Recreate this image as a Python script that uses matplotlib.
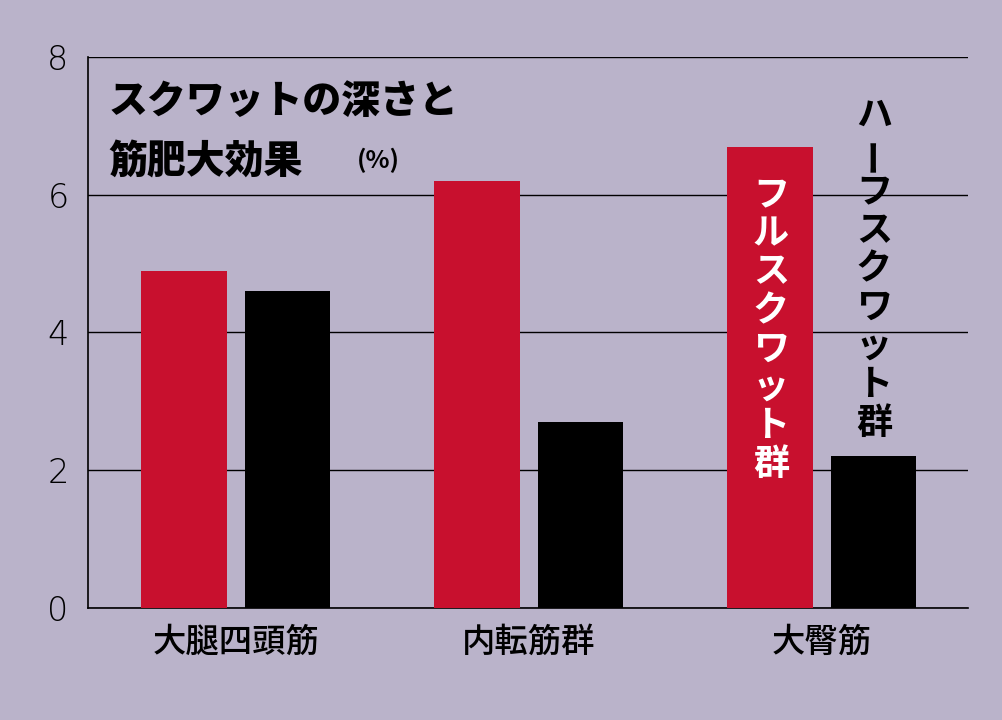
import matplotlib
matplotlib.use("Agg")
import matplotlib.pyplot as plt

categories = ["大腿四頭筋", "内転筋群", "大臀筋"]
full_squat = [4.9, 6.2, 6.7]
half_squat = [4.6, 2.7, 2.2]
yticks = [0, 2, 4, 6, 8]

BG = "#bab3ca"
RED = "#c8102e"
FONT = "Noto Sans CJK JP"

fig = plt.figure(figsize=(10.03, 7.2), dpi=100, facecolor=BG)
ax = fig.add_axes([0.0877, 0.1556, 0.8773, 0.7652], facecolor=BG)
x = range(len(categories))
w = 0.293
off = 0.176
ax.bar([i - off for i in x], full_squat, width=w, color=RED, zorder=3)
ax.bar([i + off for i in x], half_squat, width=w, color="black", zorder=3)
ax.set_xlim(-0.505, 2.498)
ax.set_ylim(0, 8)
ax.set_yticks(yticks)
ax.set_yticklabels([str(v) for v in yticks], fontsize=24, fontfamily="DejaVu Sans", fontweight="light")
ax.set_xticks(list(x))
ax.set_xticklabels(categories, fontsize=24, fontfamily=FONT, fontweight="medium")
ax.tick_params(axis="y", length=0, pad=14)
ax.tick_params(axis="x", length=0, pad=12)
ax.grid(axis="y", color="black", linewidth=1, zorder=1)
for s in ["top", "right"]:
    ax.spines[s].set_visible(False)
ax.spines["left"].set_linewidth(1.2)
ax.spines["bottom"].set_linewidth(1.2)

fig.text(0.108, 0.86, "スクワットの深さと", fontsize=28, fontfamily=FONT, fontweight="black", va="center")
fig.text(0.108, 0.775, "筋肥大効果", fontsize=28, fontfamily=FONT, fontweight="black", va="center")
fig.text(0.356, 0.777, "(%)", fontsize=18, fontfamily=FONT, fontweight="bold", va="center")

def vtext(xpx, ytop_px, s, color, size, step):
    for k, ch in enumerate(s):
        yy = 1 - (ytop_px + k * step) / 720
        rot = 90 if ch == "ー" else 0
        fig.text(xpx / 1003, yy, ch, color=color, fontsize=size, fontfamily=FONT,
                 fontweight="bold", ha="center", va="center", rotation=rot)

vtext(771, 195, "フルスクワット群", "white", 26, 38.5)
vtext(874, 115, "ハーフスクワット群", "black", 26, 38.5)

fig.savefig("out.png", dpi=100, facecolor=BG)
